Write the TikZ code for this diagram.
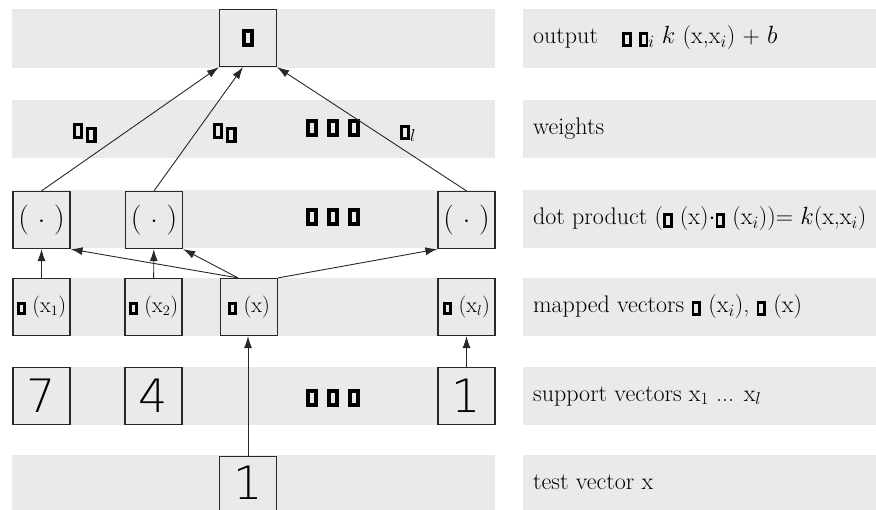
\documentclass[tikz,border=0pt]{standalone}
\usepackage{amsmath}
\usepackage{fontspec}
\usepackage{tikz}
\usetikzlibrary{arrows.meta, positioning, calc}
\newfontfamily\digitfont{DejaVuSans-ExtraLight}[Extension=.ttf]
\definecolor{bandgray}{RGB}{234,234,234}
\definecolor{mydark}{RGB}{40,40,40}
% placeholder glyph, as the picture prints it
\newcommand{\nochar}{{\fboxsep=0pt\fboxrule=.12em\fbox{\rule{0pt}{.36em}\hspace{.16em}}}}
\tikzset{
  unit/.style={rectangle, draw=mydark, line width=1.2pt,
    minimum width=57pt, minimum height=57pt, inner sep=0pt},
  arrow/.style={-{Latex[length=12pt,width=8pt]}, line width=0.9pt, color=mydark},
  layertext/.style={anchor=west, inner sep=0pt, font=\fontsize{24}{27}\selectfont},
  maptext/.style={font=\fontsize{22}{25}\selectfont},
  digit/.style={font=\fontsize{46}{46}\selectfont\digitfont},
  dotrow/.style={font=\fontsize{30}{34}\selectfont},
  weight/.style={font=\fontsize{26}{28}\selectfont}
}
\begin{document}
\begin{tikzpicture}[x=1pt, y=-1pt]
  \useasboundingbox (0,0) rectangle (876,510);
  % Bands
  \foreach \top/\bot in {9/68, 100/158, 190/248, 278/336, 367/425, 455/520} {
    \fill[bandgray] (12,\top) rectangle (495,\bot);
    \fill[bandgray] (523,\top) rectangle (880,\bot);
  }
  % Output
  \node[unit] (out) at (248,38) {\fontsize{30}{34}\selectfont\nochar};
  % Weights
  \node[weight] (w1) at (85,133) {\nochar$_{\,\nochar}$};
  \node[weight] (w2) at (225,133) {\nochar$_{\,\nochar}$};
  \node[dotrow] (wdots) at (333,128) {\nochar\ \nochar\ \nochar};
  \node[weight] (wl) at (408,133) {\nochar$_l$};
  % Dot products
  \node[unit, font=\fontsize{30}{34}\selectfont] (dot1) at (41.5,220) {( $\cdot$ )};
  \node[unit, font=\fontsize{30}{34}\selectfont] (dot2) at (154,220) {( $\cdot$ )};
  \node[dotrow] (ddots) at (333,217) {\nochar\ \nochar\ \nochar};
  \node[unit, font=\fontsize{30}{34}\selectfont] (dot4) at (466.5,220) {( $\cdot$ )};
  % Mapped vectors
  \node[unit, maptext] (map1) at (41.5,307) {\nochar{} (x$_1$)};
  \node[unit, maptext] (map2) at (153.5,307) {\nochar{} (x$_2$)};
  \node[unit, maptext] (map3) at (249,307) {\nochar{} (x)};
  \node[unit, maptext] (map4) at (466.5,307) {\nochar{} (x$_l$)};
  % Support vectors
  \node[unit, digit] (sup1) at (41.5,396) {7};
  \node[unit, digit] (sup2) at (153.5,396) {4};
  \node[dotrow] (sdots) at (333,398) {\nochar\ \nochar\ \nochar};
  \node[unit, digit] (sup4) at (466.5,396) {1};
  % Test vector
  \node[unit, minimum height=80pt, anchor=north] (test) at (248,456) {};
  \node[digit, inner sep=0pt] (testdigit) at (248,483) {1};
  % Connections
  \draw[arrow] (test.north) -- (test.north |- map3.south);
  \draw[arrow] (sup4) -- (map4);
  \draw[arrow] (map1) -- (dot1);
  \draw[arrow] (map2) -- (dot2);
  \draw[arrow] ([xshift=-11pt]map3.north) -- (dot1.south east);
  \draw[arrow] ([xshift=-11pt]map3.north) -- (dot2.south east);
  \draw[arrow] (map3.north east) -- (dot4.south west);
  \draw[arrow] (dot1.north) -- (out.south west);
  \draw[arrow] (dot2.north) -- ([xshift=-5pt]out.south);
  \draw[arrow] (dot4.north) -- (out.south east);
  % Layer labels
  \node[layertext] (lout) at (533,38) {output\quad \nochar{} \nochar$_i$ $k$ (x,x$_i$) + $b$};
  \node[layertext] (lw) at (533,129) {weights};
  \node[layertext] (ldot) at (533,219) {dot product (\nochar{} (x)$\cdot$\nochar{} (x$_i$))= $k$(x,x$_i$)};
  \node[layertext] (lmap) at (533,307) {mapped vectors \nochar{} (x$_i$), \nochar{} (x)};
  \node[layertext] (lsup) at (533,396) {support vectors x$_1$ ... x$_l$};
  \node[layertext] (ltest) at (533,482) {test vector x};
\end{tikzpicture}
\end{document}
